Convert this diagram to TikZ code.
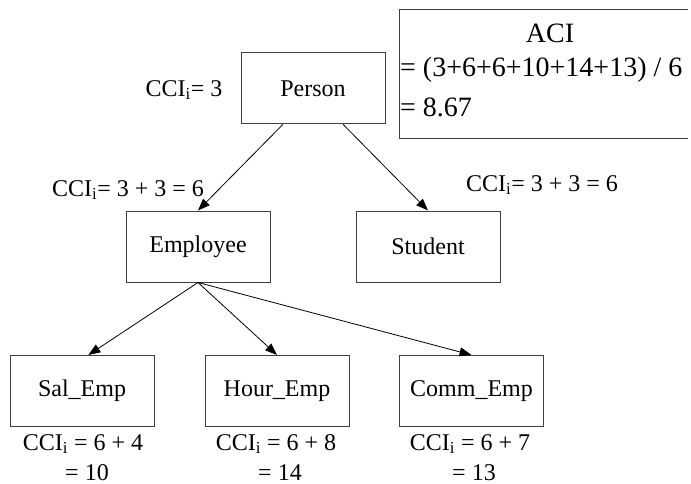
\documentclass[tikz,border=0pt]{standalone}
\usepackage{fontspec}
\setmainfont{Liberation Serif}
\usetikzlibrary{arrows.meta}

\begin{document}
\begin{tikzpicture}[x=1pt, y=-1pt,
  cls/.style={draw=black!75, line width=1pt, minimum width=144pt, minimum height=71pt, inner sep=0pt, font=\fontsize{24}{28}\selectfont},
  cci/.style={inner sep=0pt, align=center, font=\fontsize{24}{30}\selectfont},
  avg/.style={inner sep=0pt, font=\fontsize{28}{32}\selectfont},
  inh/.style={-{Triangle[length=12pt, width=9pt]}, line width=0.8pt}]
\useasboundingbox (0,0) rectangle (691,484);

% classes
\node[cls] (person) at (313,88.5) {Person};
\node[cls] (employee) at (198,246.5) {Employee};
\node[cls] (student) at (428,246.5) {Student};
\node[cls] (salemp) at (82,391) {Sal\_Emp};
\node[cls] (houremp) at (277,391) {Hour\_Emp};
\node[cls] (commemp) at (471.5,391) {Comm\_Emp};

\draw[inh] (person.230) -- (employee.north);
\draw[inh] (person.310) -- (student.north);
\draw[inh] (employee.south) -- (salemp.80);
\draw[inh] (employee.south) -- (houremp.north);
\draw[inh] (employee.south) -- (commemp.north);

% complexity values
\node[cci] (cciperson) at (184,90) {CCI\textsubscript{i}= 3};
\node[cci] (cciemployee) at (128,190) {CCI\textsubscript{i}= 3 + 3 = 6};
\node[cci] (ccistudent) at (542,185) {CCI\textsubscript{i}= 3 + 3 = 6};
\node[cci, anchor=north] (ccisal) at (83,434) {CCI\textsubscript{i} = 6 + 4\\\hspace*{8pt}= 10};
\node[cci, anchor=north] (ccihour) at (276,434) {CCI\textsubscript{i} = 6 + 8\\\hspace*{8pt}= 14};
\node[cci, anchor=north] (ccicomm) at (470,434) {CCI\textsubscript{i} = 6 + 7\\\hspace*{8pt}= 13};

% average, cut off at the right edge
\node[minimum width=289pt, minimum height=128pt, anchor=north west] (aci) at (399,10) {};
\draw[draw=black!75, line width=1pt] (aci.north east) -- (aci.north west) -- (aci.south west) -- (aci.south east);
\node[avg] (acititle) at (550,33) {ACI};
\node[avg, anchor=west] (acisum) at (400,70) {= (3+6+6+10+14+13) / 6};
\node[avg, anchor=west] (acival) at (400,107) {= 8.67};
\end{tikzpicture}
\end{document}
